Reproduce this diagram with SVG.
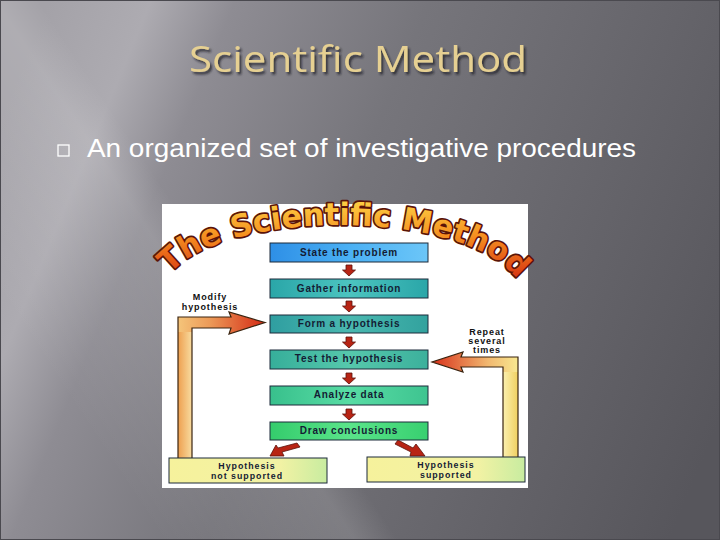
<svg xmlns="http://www.w3.org/2000/svg" width="720" height="540" viewBox="0 0 720 540">
<defs>
  <linearGradient id="bg" gradientUnits="userSpaceOnUse" x1="0" y1="120" x2="720" y2="420">
    <stop offset="0" stop-color="#a4a2a8"/>
    <stop offset="0.12" stop-color="#adabb1"/>
    <stop offset="0.22" stop-color="#8e8c93"/>
    <stop offset="0.45" stop-color="#76757b"/>
    <stop offset="1" stop-color="#57565c"/>
  </linearGradient>
  <linearGradient id="band" gradientUnits="userSpaceOnUse" x1="0" y1="300" x2="300" y2="100">
    <stop offset="0" stop-color="#ffffff" stop-opacity="0"/>
    <stop offset="0.45" stop-color="#ffffff" stop-opacity="0.12"/>
    <stop offset="0.55" stop-color="#ffffff" stop-opacity="0"/>
    <stop offset="1" stop-color="#ffffff" stop-opacity="0"/>
  </linearGradient>
  <linearGradient id="gBlue" x1="0" y1="0" x2="1" y2="0">
    <stop offset="0" stop-color="#2e8fe6"/>
    <stop offset="0.5" stop-color="#4ab0f4"/>
    <stop offset="1" stop-color="#6cc6f8"/>
  </linearGradient>
  <linearGradient id="gTeal1" x1="0" y1="0" x2="1" y2="0">
    <stop offset="0" stop-color="#2aa6a8"/>
    <stop offset="0.5" stop-color="#4cc4c0"/>
    <stop offset="1" stop-color="#2aa6a8"/>
  </linearGradient>
  <linearGradient id="gTeal2" x1="0" y1="0" x2="1" y2="0">
    <stop offset="0" stop-color="#2f9ea0"/>
    <stop offset="0.5" stop-color="#4ab8b0"/>
    <stop offset="1" stop-color="#32a29e"/>
  </linearGradient>
  <linearGradient id="gTeal3" x1="0" y1="0" x2="1" y2="0">
    <stop offset="0" stop-color="#36ae9a"/>
    <stop offset="0.5" stop-color="#56c8ac"/>
    <stop offset="1" stop-color="#3cb09c"/>
  </linearGradient>
  <linearGradient id="gGreen1" x1="0" y1="0" x2="1" y2="0">
    <stop offset="0" stop-color="#38c08c"/>
    <stop offset="0.5" stop-color="#58dca4"/>
    <stop offset="1" stop-color="#3ec490"/>
  </linearGradient>
  <linearGradient id="gGreen2" x1="0" y1="0" x2="1" y2="0">
    <stop offset="0" stop-color="#34cc6c"/>
    <stop offset="0.5" stop-color="#5ae48a"/>
    <stop offset="1" stop-color="#38d070"/>
  </linearGradient>
  <linearGradient id="gYellow" x1="0" y1="0" x2="1" y2="0">
    <stop offset="0" stop-color="#f6f29c"/>
    <stop offset="0.7" stop-color="#f2f2a4"/>
    <stop offset="1" stop-color="#c8eca0"/>
  </linearGradient>
  <linearGradient id="gLeftBar" x1="0" y1="0" x2="1" y2="0">
    <stop offset="0" stop-color="#eea050"/>
    <stop offset="1" stop-color="#f8dca0"/>
  </linearGradient>
  <linearGradient id="gLeftArrow" gradientUnits="userSpaceOnUse" x1="180" y1="0" x2="265" y2="0">
    <stop offset="0" stop-color="#f4c278"/>
    <stop offset="0.35" stop-color="#ec9a58"/>
    <stop offset="1" stop-color="#d42a14"/>
  </linearGradient>
  <linearGradient id="gRightBar" x1="0" y1="0" x2="1" y2="0">
    <stop offset="0" stop-color="#fbf0b0"/>
    <stop offset="1" stop-color="#f0d060"/>
  </linearGradient>
  <linearGradient id="gRightArrow" gradientUnits="userSpaceOnUse" x1="518" y1="0" x2="432" y2="0">
    <stop offset="0" stop-color="#f8e890"/>
    <stop offset="0.35" stop-color="#f2b870"/>
    <stop offset="1" stop-color="#d8301a"/>
  </linearGradient>
  <linearGradient id="gTitle" x1="0" y1="0" x2="0" y2="1">
    <stop offset="0" stop-color="#ffd848"/>
    <stop offset="0.45" stop-color="#f59020"/>
    <stop offset="1" stop-color="#d42810"/>
  </linearGradient>
  <filter id="shadow" x="-10%" y="-20%" width="120%" height="150%">
    <feDropShadow dx="2" dy="2.5" stdDeviation="1" flood-color="#1e1d22" flood-opacity="0.75"/>
  </filter>
  <path id="arc" d="M 170,274 C 224,208 462,208 516,278"/>
  <path id="down" d="M -3,0 H 3 V 5 H 6.5 L 0,11 L -6.5,5 H -3 Z"/>
  <style>
    .box { stroke: #1c2a3a; stroke-width: 1; }
    .bt { font-family: "Liberation Sans", Arial, sans-serif; font-weight: bold; font-size: 10px; fill: #141c34; text-anchor: middle; letter-spacing: 0.8px; }
    .bt2 { font-family: "Liberation Sans", Arial, sans-serif; font-weight: bold; font-size: 8.8px; fill: #141c34; text-anchor: middle; letter-spacing: 1px; }
    .lbl { font-family: "Liberation Sans", Arial, sans-serif; font-weight: bold; font-size: 9px; fill: #111; text-anchor: middle; letter-spacing: 0.9px; }
    .arr { fill: #b82414; stroke: #5a120a; stroke-width: 0.8; }
    .loop { stroke: #3a2410; stroke-width: 1.2; stroke-linejoin: miter; fill: none; }
  </style>
</defs>

<!-- slide background -->
<rect x="0" y="0" width="720" height="540" fill="url(#bg)"/>
<rect x="0" y="0" width="720" height="540" fill="url(#band)"/>
<rect x="0.5" y="0.5" width="719" height="539" fill="none" stroke="#4a494f" stroke-width="1"/>

<!-- slide title -->
<g id="slide-title">
  <text x="358" y="72" font-family="'Open Sans', 'Noto Sans', sans-serif" font-size="37" text-anchor="middle" fill="#e6d092" textLength="338" lengthAdjust="spacingAndGlyphs" filter="url(#shadow)">Scientific Method</text>
</g>

<!-- bullet -->
<g id="bullet">
  <rect x="58" y="145" width="11" height="11" fill="none" stroke="#ffffff" stroke-width="1.3"/>
  <text x="87" y="157" font-family="'Liberation Sans', Arial, sans-serif" font-size="25" fill="#ffffff" textLength="549" lengthAdjust="spacingAndGlyphs">An organized set of investigative procedures</text>
</g>

<!-- picture panel -->
<rect id="panel" x="162" y="204" width="366" height="284" fill="#ffffff"/>

<!-- arched title -->
<g id="arc-title">
  <text font-family="'DejaVu Sans', 'Liberation Sans', sans-serif" font-weight="bold" font-size="31" fill="url(#gTitle)" stroke="#5a1408" stroke-width="3.4" paint-order="stroke" stroke-linejoin="round">
    <textPath href="#arc" textLength="372" lengthAdjust="spacingAndGlyphs">The Scientific Method</textPath>
  </text>
</g>

<!-- connectors -->
<g id="connectors">
  <use href="#down" class="arr" x="349" y="265"/>
  <use href="#down" class="arr" x="349" y="301"/>
  <use href="#down" class="arr" x="349" y="337"/>
  <use href="#down" class="arr" x="349" y="373"/>
  <use href="#down" class="arr" x="349" y="409"/>
  <path class="arr" d="M 297,443 L 300,447 L 282,452 L 284,456 L 270,456 L 276,445 L 278,448 Z"/>
  <path class="arr" d="M 395,444 L 398,440 L 413,448 L 416,444 L 425,456 L 410,456 L 411,452 Z"/>
  <!-- left feedback loop -->
  <rect x="178" y="317" width="14" height="141" fill="url(#gLeftBar)"/>
  <path fill="url(#gLeftArrow)" d="M 178,317 H 231 L 229,312 L 265,322.5 L 229,334 L 231,328 H 192 V 332 H 178 Z"/>
  <path class="loop" d="M 178,458 V 317 H 231 L 229,312 L 265,322.5 L 229,334 L 231,328 H 192 V 458"/>
  <!-- right feedback loop -->
  <rect x="503" y="357" width="15" height="100" fill="url(#gRightBar)"/>
  <path fill="url(#gRightArrow)" d="M 518,357 H 461 L 463,352 L 432,362 L 463,372 L 461,367 H 503 V 372 H 518 Z"/>
  <path class="loop" d="M 518,457 V 357 H 461 L 463,352 L 432,362 L 463,372 L 461,367 H 503 V 457"/>
</g>

<!-- nodes -->
<g id="n-state">
  <rect class="box" x="270" y="243" width="158" height="19" fill="url(#gBlue)"/>
  <text class="bt" x="349" y="256">State the problem</text>
</g>
<g id="n-gather">
  <rect class="box" x="270" y="279" width="158" height="19" fill="url(#gTeal1)"/>
  <text class="bt" x="349" y="292">Gather information</text>
</g>
<g id="n-form">
  <rect class="box" x="270" y="315" width="158" height="18" fill="url(#gTeal2)"/>
  <text class="bt" x="349" y="327">Form a hypothesis</text>
</g>
<g id="n-test">
  <rect class="box" x="270" y="350" width="158" height="19" fill="url(#gTeal3)"/>
  <text class="bt" x="349" y="362">Test the hypothesis</text>
</g>
<g id="n-analyze">
  <rect class="box" x="270" y="386" width="158" height="19" fill="url(#gGreen1)"/>
  <text class="bt" x="349" y="398">Analyze data</text>
</g>
<g id="n-draw">
  <rect class="box" x="270" y="422" width="158" height="18" fill="url(#gGreen2)"/>
  <text class="bt" x="349" y="434">Draw conclusions</text>
</g>
<g id="n-not-supported">
  <rect class="box" x="169" y="458" width="158" height="25" fill="url(#gYellow)"/>
  <text class="bt2" x="247" y="468.5">Hypothesis</text>
  <text class="bt2" x="247" y="478.5">not supported</text>
</g>
<g id="n-supported">
  <rect class="box" x="367" y="457" width="158" height="25" fill="url(#gYellow)"/>
  <text class="bt2" x="446" y="467.5">Hypothesis</text>
  <text class="bt2" x="446" y="477.5">supported</text>
</g>

<!-- loop labels -->
<g id="lbl-modify">
  <text class="lbl" x="210" y="300">Modify</text>
  <text class="lbl" x="210" y="310">hypothesis</text>
</g>
<g id="lbl-repeat">
  <text class="lbl" x="487" y="335">Repeat</text>
  <text class="lbl" x="487" y="344">several</text>
  <text class="lbl" x="487" y="353">times</text>
</g>
</svg>
